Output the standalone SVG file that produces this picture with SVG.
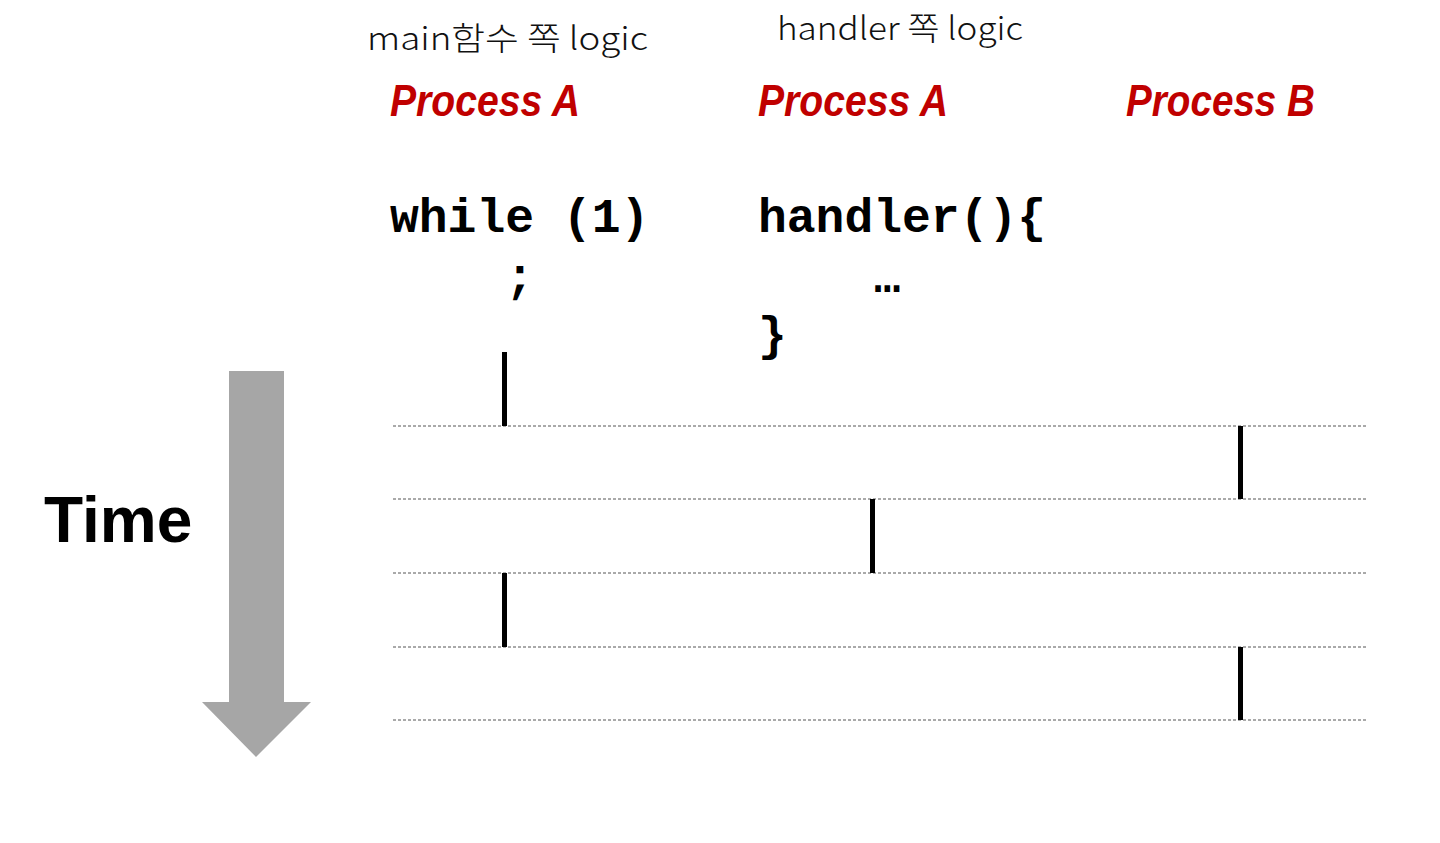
<svg xmlns="http://www.w3.org/2000/svg" width="1440" height="843" viewBox="0 0 1440 843">
<style>
.hand{font-family:"Noto Sans CJK KR","Noto Sans",sans-serif;font-weight:300;font-size:32px;fill:#111}
.title{font-family:"Liberation Sans",Arial,sans-serif;font-weight:bold;font-style:italic;font-size:45px;fill:#c00000}
.code{font-family:"Liberation Mono","Courier New",monospace;font-weight:bold;font-size:48px;fill:#000}
.grid{stroke:#555;stroke-width:1;stroke-dasharray:3 2;fill:none}
.bar{stroke:#000;stroke-width:5}
</style>
<rect width="1440" height="843" fill="#fff"/>
<g id="notes">
<text class="hand" x="367" y="50" textLength="281" lengthAdjust="spacingAndGlyphs">main함수 쪽  logic</text>
<text class="hand" x="777" y="40" textLength="246" lengthAdjust="spacingAndGlyphs">handler 쪽 logic</text>
</g>
<g id="titles">
<text class="title" x="390" y="116" textLength="190" lengthAdjust="spacingAndGlyphs">Process A</text>
<text class="title" x="758" y="116" textLength="190" lengthAdjust="spacingAndGlyphs">Process A</text>
<text class="title" x="1126" y="116" textLength="189" lengthAdjust="spacingAndGlyphs">Process B</text>
</g>
<g id="code-main">
<text class="code" x="390" y="232" xml:space="preserve">while (1)</text>
<text class="code" x="390" y="292" xml:space="preserve">    ;</text>
</g>
<g id="code-handler">
<text class="code" x="758" y="232">handler(){</text>
<text x="874" y="292" font-family="Liberation Mono,monospace" font-weight="bold" font-size="44" fill="#000">…</text>
<text class="code" x="758" y="350">}</text>
</g>
<g id="time">
<text x="44" y="542" font-family="Liberation Sans,Arial,sans-serif" font-weight="bold" font-size="64" fill="#000">Time</text>
<polygon points="229,371 284,371 284,702 311,702 256,757 202,702 229,702" fill="#a6a6a6"/>
</g>
<g id="grid">
<line class="grid" x1="393" y1="426" x2="1368" y2="426"/>
<line class="grid" x1="393" y1="499" x2="1368" y2="499"/>
<line class="grid" x1="393" y1="573" x2="1368" y2="573"/>
<line class="grid" x1="393" y1="647" x2="1368" y2="647"/>
<line class="grid" x1="393" y1="720" x2="1368" y2="720"/>
</g>
<g id="bars">
<line class="bar" x1="504.5" y1="352" x2="504.5" y2="426"/>
<line class="bar" x1="1240.5" y1="426" x2="1240.5" y2="499"/>
<line class="bar" x1="872.5" y1="499" x2="872.5" y2="573"/>
<line class="bar" x1="504.5" y1="573" x2="504.5" y2="647"/>
<line class="bar" x1="1240.5" y1="647" x2="1240.5" y2="720"/>
</g>
</svg>
